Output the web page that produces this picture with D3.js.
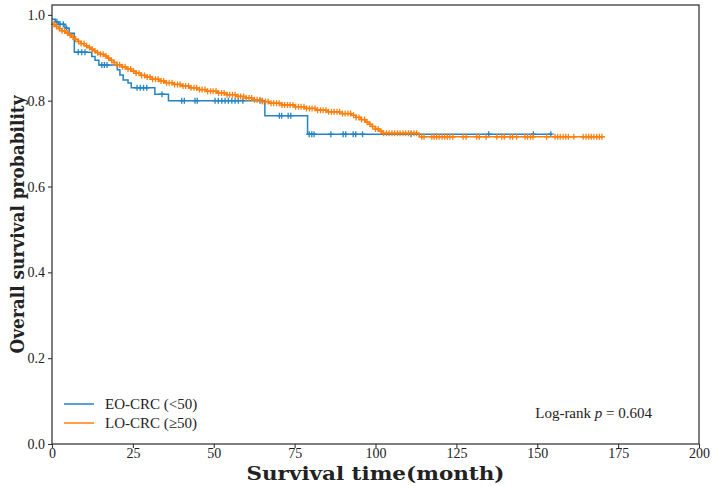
<!DOCTYPE html>
<html>
<head>
<meta charset="utf-8">
<script src="https://cdn.jsdelivr.net/npm/d3@7"></script>
<style>
  body { margin: 0; background: #fff; }
  svg text { font-family: "Liberation Serif", "DejaVu Serif", serif; fill: #222; }
</style>
</head>
<body>
<div id="chart"></div>
<script>
// EO-CRC (<50): step times and survival after each step
var eoTimes = [0, 1.0, 2.0, 4.0, 5.3, 6.9, 12.3, 13.3, 14.5, 20.2, 21.0, 22.0, 23.5, 24.5, 31.8, 36.0, 65.8, 79.0, 154.5];
var eoSurv  = [0.990, 0.984, 0.978, 0.969, 0.957, 0.913, 0.903, 0.894, 0.883, 0.872, 0.860, 0.848, 0.841, 0.830, 0.815, 0.800, 0.765, 0.722, 0.722];
var eoCensor = [1.5, 2.5, 3.5, 4.5, 8.1, 9.2, 10.2, 15.4, 16.2, 17.0, 26.3, 27.3, 28.3, 29.3, 34.0,
  40.1, 40.9, 44.2, 44.9, 50.4, 51.4, 52.5, 53.5, 54.5, 55.6, 56.6, 57.6, 59.0, 64.3, 65.0,
  70.3, 71.0, 73.0, 73.8, 79.5, 80.3, 81.0, 86.2, 90.0, 90.8, 93.1, 93.9, 96.0, 111.0, 135.0, 148.8, 154.2];

// LO-CRC (>=50)
var loTimes = [0, 1, 2, 3, 4, 5, 6, 7, 8, 9, 10, 11, 12, 13, 14, 15, 16, 17, 18, 19, 20, 21.5, 23, 24.5, 26, 27.5, 29, 31, 33, 35, 37.5, 40, 42.5, 45, 48, 51, 54, 57, 60, 62, 64.5, 67, 71, 75, 78, 81.5, 85, 89, 92.5, 94, 95.5, 97, 98, 99, 100, 101, 102, 113.5, 170.4];
var loSurv  = [0.978, 0.973, 0.968, 0.963, 0.958, 0.953, 0.948, 0.943, 0.938, 0.933, 0.928, 0.924, 0.920, 0.916, 0.912, 0.908, 0.904, 0.899, 0.894, 0.889, 0.884, 0.879, 0.874, 0.869, 0.864, 0.859, 0.855, 0.850, 0.846, 0.842, 0.838, 0.834, 0.830, 0.826, 0.822, 0.818, 0.814, 0.810, 0.806, 0.802, 0.798, 0.794, 0.790, 0.786, 0.782, 0.778, 0.774, 0.770, 0.766, 0.761, 0.756, 0.750, 0.745, 0.740, 0.734, 0.729, 0.724, 0.716, 0.716];
var loCensor = [0.6, 1.4, 2.3, 3.1, 3.9, 4.8, 5.6, 6.5, 7.3, 8.2, 9.0, 9.9, 10.7, 11.6, 12.4, 13.3, 14.1, 15.0, 15.8, 16.7,
  17.5, 18.4, 19.2, 20.1, 20.9, 21.8, 22.6, 23.5, 24.3, 25.2, 26.0, 26.9, 27.7, 28.6, 29.4, 30.3, 31.1, 32.0, 32.8, 33.7,
  34.5, 35.4, 36.2, 37.1, 37.9, 38.8, 39.6, 40.5, 41.3, 42.2, 43.0, 43.9, 44.7, 45.6, 46.4, 47.3, 48.1, 49.0, 49.8, 50.7,
  51.5, 52.4, 53.2, 54.1, 54.9, 55.8, 56.6, 57.5, 58.3, 59.2, 60.0, 60.9, 61.7, 62.6, 63.4, 64.3, 65.1, 66.0, 66.8, 67.7,
  68.5, 69.4, 70.2, 71.1, 71.9, 72.8, 73.6, 74.5, 75.3, 76.2, 77.0, 77.9, 78.7, 79.6, 80.4, 81.3, 82.1, 83.0, 83.8, 84.7,
  85.5, 86.4, 87.2, 88.1, 88.9, 89.8, 90.6, 91.5, 92.3, 93.2, 94.0, 94.9, 95.7, 96.6, 97.4, 98.3, 99.1, 100.0, 100.8, 101.7,
  102.5, 103.4, 104.2, 105.1, 105.9, 106.8, 107.6, 108.5, 109.3, 110.2, 111.0, 111.9, 112.7,
  114.3, 115.0, 117.4, 118.1, 118.9, 119.7, 120.6, 121.4, 122.2, 123.0, 123.9, 127.1, 128.0, 131.3, 132.1, 134.2,
  137.5, 139.0, 139.8, 141.6, 142.4, 143.6, 146.2, 147.0, 147.9, 148.7, 152.9, 155.5, 156.3, 157.1, 158.0, 158.8,
  159.6, 161.3, 164.2, 165.1, 165.9, 166.7, 167.5, 168.4, 169.2, 170.0];

var groupNames = ["EO-CRC (<50)", "LO-CRC (\u226550)"];
var groupColors = ["#2383c4", "#ff7f0e"];
var xTicks = [0, 25, 50, 75, 100, 125, 150, 175, 200];
var yTicks = [0.0, 0.2, 0.4, 0.6, 0.8, 1.0];

var width = 715, height = 486;
var plotL = 52, plotR = 699, plotT = 5, plotB = 444;

var svg = d3.select("#chart")
  .append("svg")
  .attr("width", width)
  .attr("height", height);

var x = d3.scaleLinear().domain([0, 200]).range([plotL, plotR]);
var y = d3.scaleLinear().domain([0, 1.023]).range([plotB, plotT]);

function survAt(times, surv, t) {
  var i = d3.bisectRight(times, t) - 1;
  return surv[Math.max(0, i)];
}

var line = d3.line()
  .x(function(d) { return x(d[0]); })
  .y(function(d) { return y(d[1]); })
  .curve(d3.curveStepAfter);

var groups = [
  { times: eoTimes, surv: eoSurv, censor: eoCensor, color: groupColors[0] },
  { times: loTimes, surv: loSurv, censor: loCensor, color: groupColors[1] }
];

groups.forEach(function(g) {
  var pts = g.times.map(function(t, i) { return [t, g.surv[i]]; });
  svg.append("path")
    .attr("d", line(pts))
    .attr("fill", "none")
    .attr("stroke", g.color)
    .attr("stroke-width", 1.5);

  var m = 3;
  svg.append("g")
    .selectAll("path")
    .data(g.censor)
    .enter()
    .append("path")
    .attr("d", function(t) {
      var cx = x(t), cy = y(survAt(g.times, g.surv, t));
      return "M" + (cx - m) + "," + cy + "H" + (cx + m) + "M" + cx + "," + (cy - m) + "V" + (cy + m);
    })
    .attr("stroke", g.color)
    .attr("stroke-width", 1.3)
    .attr("fill", "none");
});

// axes
var xAxis = svg.append("g")
  .attr("transform", "translate(0," + plotB + ")")
  .call(d3.axisBottom(x).tickValues(xTicks).tickSize(4).tickPadding(2).tickSizeOuter(0).tickFormat(d3.format("d")));
var yAxis = svg.append("g")
  .attr("transform", "translate(" + plotL + ",0)")
  .call(d3.axisLeft(y).tickValues(yTicks).tickSize(4).tickSizeOuter(0).tickFormat(d3.format(".1f")));

[xAxis, yAxis].forEach(function(a) {
  a.select(".domain").remove();
  a.selectAll("line").attr("stroke", "#333").attr("stroke-width", 1.1);
  a.selectAll("text").style("font-family", "Liberation Serif, serif").style("font-size", "14px").attr("fill", "#222");
});
xAxis.selectAll("text").attr("dy", "0.6em");

// frame
svg.append("rect")
  .attr("x", plotL).attr("y", plotT)
  .attr("width", plotR - plotL).attr("height", plotB - plotT)
  .attr("fill", "none")
  .attr("stroke", "#333")
  .attr("stroke-width", 1.25);

// titles
svg.append("text")
  .attr("x", (plotL + plotR) / 2)
  .attr("y", 480)
  .attr("text-anchor", "middle")
  .style("font-family", "DejaVu Serif, serif")
  .style("font-size", "19px")
  .style("font-weight", "bold")
  .attr("textLength", 258)
  .attr("lengthAdjust", "spacingAndGlyphs")
  .text("Survival time(month)");

svg.append("text")
  .attr("transform", "translate(24," + ((plotT + plotB) / 2) + ") rotate(-90)")
  .attr("text-anchor", "middle")
  .style("font-family", "DejaVu Serif, serif")
  .style("font-size", "19px")
  .style("font-weight", "bold")
  .attr("textLength", 258)
  .attr("lengthAdjust", "spacingAndGlyphs")
  .text("Overall survival probability");

// legend
var legend = svg.append("g");
groupNames.forEach(function(name, i) {
  var ly = 404 + i * 19;
  legend.append("line")
    .attr("x1", 64).attr("x2", 94)
    .attr("y1", ly).attr("y2", ly)
    .attr("stroke", groupColors[i])
    .attr("stroke-width", 1.5);
  legend.append("text")
    .attr("x", 105).attr("y", ly + 5)
    .style("font-size", "15px")
    .text(name);
});

// log-rank annotation
var lr = svg.append("text")
  .attr("x", 652).attr("y", 418)
  .attr("text-anchor", "end")
  .style("font-size", "15px");
lr.append("tspan").text("Log-rank ");
lr.append("tspan").style("font-style", "italic").text("p");
lr.append("tspan").text(" = 0.604");
</script>
</body>
</html>
